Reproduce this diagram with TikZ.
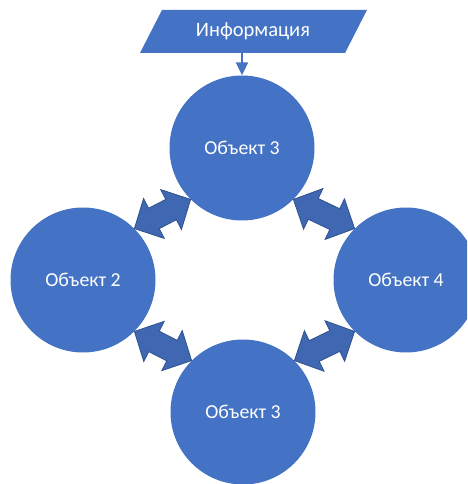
\documentclass[tikz,border=0pt]{standalone}
\usepackage{fontspec}
\setmainfont{Carlito}
\usetikzlibrary{calc,arrows.meta}
\definecolor{objblue}{HTML}{4472C4}
\definecolor{arrfill}{HTML}{3F67B2}
\definecolor{arrline}{HTML}{2F528F}
\newcommand\dblarrow[2]{%
  \fill[darr] (#1)
    -- ($(#1)!22pt!(#2)!22.5pt!90:(#2)$)
    -- ($(#1)!22pt!(#2)!11.5pt!90:(#2)$)
    -- ($(#2)!22pt!(#1)!11.5pt!-90:(#1)$)
    -- ($(#2)!22pt!(#1)!22.5pt!-90:(#1)$)
    -- (#2)
    -- ($(#2)!22pt!(#1)!22.5pt!90:(#1)$)
    -- ($(#2)!22pt!(#1)!11.5pt!90:(#1)$)
    -- ($(#1)!22pt!(#2)!11.5pt!-90:(#2)$)
    -- ($(#1)!22pt!(#2)!22.5pt!-90:(#2)$)
    -- cycle;}
\begin{document}
\begin{tikzpicture}[x=1pt,y=-1pt,
  objnode/.style={circle,fill=objblue,minimum size=145pt,inner sep=0pt,
    text=white,font=\fontsize{19.8}{23}\selectfont},
  infotext/.style={text=white,font=\fontsize{20.5}{24}\selectfont,inner sep=0pt},
  darr/.style={fill=arrfill,draw=arrline,line width=0.8pt,line join=miter},
  infoarrow/.style={draw=objblue,line width=2pt,-{Triangle[length=13pt,width=12pt]}}]
\useasboundingbox (0,0) rectangle (467,484);
\clip (0,0) rectangle (467,484);
% information parallelogram
\fill[objblue] (162,10) -- (367,10) -- (345,53) -- (140,53) -- cycle;
\node[infotext] (info) at (253,31) {Информация};
\coordinate (infob) at (242,53);
% objects
\node[objnode] (T) at (242,148) {Объект 3};
\node[objnode] (L) at (83,280) {Объект 2};
\node[objnode] (R) at (406,280) {Объект 4};
\node[objnode] (B) at (243,412) {Объект 3};
\draw[infoarrow] (infob) -- (T.north);
% double arrows
\dblarrow{L.45}{T.225}
\dblarrow{T.315}{R.135}
\dblarrow{L.315}{B.135}
\dblarrow{B.45}{R.225}
\end{tikzpicture}
\end{document}
